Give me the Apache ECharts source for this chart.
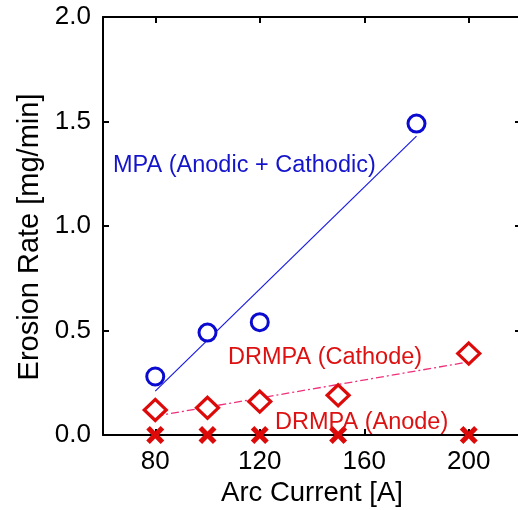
<!DOCTYPE html>
<html>
<head>
<meta charset="utf-8">
<script src="https://cdn.jsdelivr.net/npm/echarts@6/dist/echarts.min.js"></script>
<style>
  html, body { margin: 0; padding: 0; background: #fff; }
  #main { width: 518px; height: 510px; }
</style>
</head>
<body>
<div id="main"></div>
<script>
// data
var mpaCurrent = [80, 100, 120, 180];
var mpaRate = [0.28, 0.49, 0.54, 1.49];
var mpaFitX = [80, 180];
var mpaFitY = [0.21, 1.43];

var cathodeCurrent = [80, 100, 120, 150, 200];
var cathodeRate = [0.12, 0.13, 0.16, 0.19, 0.39];
var cathodeFitX = [80, 200];
var cathodeFitY = [0.09, 0.35];

var anodeCurrent = [80, 100, 120, 150, 200];
var anodeRate = [0, 0, 0, 0, 0];

var xTicks = [80, 120, 160, 200];
var yTicks = [0, 0.5, 1.0, 1.5, 2.0];

function pairs(xs, ys) {
  var out = [];
  for (var i = 0; i < xs.length; i++) out.push([xs[i], ys[i]]);
  return out;
}

var FONT = 'Liberation Sans, Arial, sans-serif';
var crossPath = 'path://M0,2L2,0L5,3L8,0L10,2L7,5L10,8L8,10L5,7L2,10L0,8L3,5Z';

var axisLineStyle = { color: '#000', width: 2 };

var option = {
  animation: false,
  backgroundColor: '#fff',
  grid: { left: 103, top: 17, width: 418, height: 418, outerBoundsMode: 'none' },
  xAxis: [{
    type: 'value', min: 60, max: 220, position: 'bottom',
    name: 'Arc Current [A]', nameLocation: 'middle', nameGap: 44,
    nameTextStyle: { fontFamily: FONT, fontSize: 27.5, color: '#000' },
    axisLine: { onZero: false, lineStyle: axisLineStyle },
    axisTick: { inside: true, length: 6, lineStyle: { width: 2, color: '#000' }, customValues: xTicks },
    axisLabel: { customValues: xTicks, margin: 14, fontFamily: FONT, fontSize: 26, color: '#000' },
    splitLine: { show: false }
  }, {
    type: 'value', min: 60, max: 220, position: 'top',
    axisLine: { onZero: false, lineStyle: axisLineStyle },
    axisTick: { inside: true, length: 6, lineStyle: { width: 2, color: '#000' }, customValues: xTicks },
    axisLabel: { show: false },
    splitLine: { show: false }
  }],
  yAxis: [{
    type: 'value', min: 0, max: 2, position: 'left',
    axisLine: { onZero: false, lineStyle: axisLineStyle },
    axisTick: { inside: true, length: 6, lineStyle: { width: 2, color: '#000' }, customValues: yTicks },
    axisLabel: {
      customValues: yTicks, margin: 12, fontFamily: FONT, fontSize: 26, color: '#000',
      formatter: function (v) { return v.toFixed(1); }
    },
    splitLine: { show: false }
  }, {
    type: 'value', min: 0, max: 2, position: 'right',
    axisLine: { onZero: false, lineStyle: axisLineStyle },
    axisTick: { inside: true, length: 6, lineStyle: { width: 2, color: '#000' }, customValues: yTicks },
    axisLabel: { show: false },
    splitLine: { show: false }
  }],
  series: [
    {
      name: 'MPA fit', type: 'line', data: pairs(mpaFitX, mpaFitY),
      symbol: 'none', lineStyle: { color: '#1a1ae0', width: 1.2 }, z: 2
    },
    {
      name: 'DRMPA cathode fit', type: 'line', data: pairs(cathodeFitX, cathodeFitY),
      symbol: 'none', lineStyle: { color: '#f0307a', width: 1.3, type: [8, 3, 2, 3] }, z: 2
    },
    {
      name: 'MPA', type: 'scatter', data: pairs(mpaCurrent, mpaRate),
      symbol: 'circle', symbolSize: 17,
      itemStyle: { color: '#fff', opacity: 1, borderColor: '#0a0ad0', borderWidth: 3 }, z: 3
    },
    {
      name: 'DRMPA (Cathode)', type: 'scatter', data: pairs(cathodeCurrent, cathodeRate),
      symbol: 'diamond', symbolSize: [22, 21],
      itemStyle: { color: '#fff', opacity: 1, borderColor: '#dd0a0a', borderWidth: 3.2 }, z: 3
    },
    {
      name: 'DRMPA (Anode)', type: 'scatter', data: pairs(anodeCurrent, anodeRate),
      symbol: crossPath, symbolSize: 18,
      itemStyle: { color: '#dd0a0a', opacity: 1 }, z: 4
    }
  ],
  graphic: [
    { type: 'text', x: 30, y: 237, rotation: Math.PI / 2, z: 10,
      style: { text: 'Erosion Rate [mg/min]', font: '29px ' + FONT, fill: '#000',
        align: 'center', verticalAlign: 'middle' } },
    { type: 'text', left: 113, top: 154, z: 10,
      style: { text: 'MPA (Anodic + Cathodic)', font: '23.5px ' + FONT, fill: '#1414cc' } },
    { type: 'text', left: 228, top: 346, z: 10,
      style: { text: 'DRMPA (Cathode)', font: '23.5px ' + FONT, fill: '#dd1111' } },
    { type: 'text', left: 275, top: 411, z: 10,
      style: { text: 'DRMPA (Anode)', font: '23.5px ' + FONT, fill: '#dd1111' } }
  ]
};

var myChart = echarts.init(document.getElementById('main'));
myChart.setOption(option);
</script>
</body>
</html>
